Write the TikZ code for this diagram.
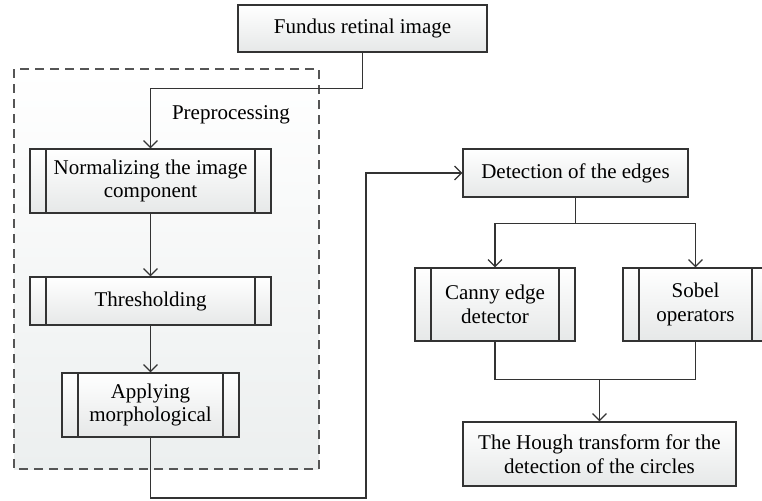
\documentclass[tikz,border=0pt]{standalone}
\usepackage{fontspec}
\setmainfont{Liberation Serif}
\usepackage{tikz}
\usetikzlibrary{arrows.meta}
\definecolor{boxline}{HTML}{333333}
\definecolor{boxgray}{HTML}{E6E8E8}
\definecolor{regiongray}{HTML}{ECEFEF}
\definecolor{dashgray}{HTML}{555555}
\tikzset{
  box/.style={
    draw=boxline, line width=0.6pt,
    top color=white, bottom color=boxgray,
    align=center, inner sep=2pt,
    font=\fontsize{10.5}{11.8}\selectfont
  },
  subproc/.style={
    box,
    path picture={
      \draw[boxline, line width=0.6pt]
        ([xshift=8pt]path picture bounding box.north west) --
        ([xshift=8pt]path picture bounding box.south west);
      \draw[boxline, line width=0.6pt]
        ([xshift=-8pt]path picture bounding box.north east) --
        ([xshift=-8pt]path picture bounding box.south east);
    }
  },
  region/.style={
    draw=dashgray, line width=0.7pt, dash pattern=on 4.5pt off 3pt,
    top color=white, bottom color=regiongray
  },
  link/.style={draw=boxline, line width=0.6pt}
}

\begin{document}
\begin{tikzpicture}[x=0.5pt,y=-0.5pt]
                \useasboundingbox (0,0) rectangle (762,500);
                \path[region] (14,69) rectangle (319,469);
                \begin{scope}[every node/.style={box}]
                    \node[minimum width=124.5pt, minimum height=23.5pt] (fundus) at (362.5,28.5) {Fundus retinal image};
                    \node[minimum width=112.5pt, minimum height=24pt] (detect) at (575.5,173) {Detection of the edges};
                    \node[minimum width=136.5pt, minimum height=32pt] (hough) at (599.5,454) {The Hough transform for the\\detection of the circles};
                \end{scope}
                \begin{scope}[every node/.style={subproc}]
                    \node[minimum width=120.5pt, minimum height=32pt] (norm) at (150.5,181) {Normalizing the image\\component};
                    \node[minimum width=120.5pt, minimum height=24pt] (thresh) at (150.5,301) {Thresholding};
                    \node[minimum width=88.5pt, minimum height=32pt] (morph) at (150.5,405) {Applying\\morphological};
                    \node[minimum width=80pt, minimum height=36.5pt] (canny) at (495,304.5) {Canny edge\\detector};
                    \node[minimum width=72.5pt, minimum height=36.5pt] (sobel) at (695.5,304.5) {Sobel\\operators};
                \end{scope}
                \node[anchor=west, font=\fontsize{10.5}{11.8}\selectfont] (prelbl) at (165,115) {Preprocessing};
                \coordinate (loop) at (366,498);
                \begin{scope}[>={Straight Barb[length=3.5pt,width=7pt]}, every edge/.style={link}]
                    \draw [link,->] (fundus.south) -- ++(0,36) -| (norm.north);
                    \path [->] (norm) edge (thresh);
                    \path [->] (thresh) edge (morph);
                    \draw [link,->] (morph.south) |- (loop) |- (detect.west);
                    \draw [link] (detect.south) -- ++(0,26) coordinate (split);
                    \draw [link,->] (split) -| (canny.north);
                    \draw [link,->] (split) -| (sobel.north);
                    \draw [link] (canny.south) -- ++(0,38) coordinate (merge) -| (sobel.south);
                    \draw [link,->] (hough.north |- merge) -- (hough.north);
                \end{scope}
            \end{tikzpicture}
\end{document}
